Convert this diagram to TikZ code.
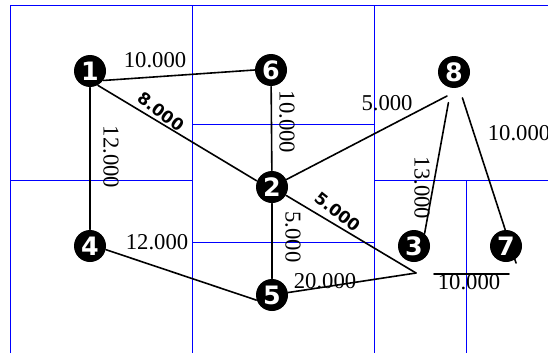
\documentclass[tikz,border=0pt]{standalone}
\usepackage{fontspec}
\setmainfont{Liberation Serif}
\newfontfamily\stationfont{DejaVu Sans}
\newfontfamily\boldlabelfont{DejaVu Sans}
\usetikzlibrary{backgrounds}

\tikzset{every picture/.style={line width=0.75pt}}
\tikzset{
	station/.style={circle, fill=black, inner sep=0pt, minimum size=24pt, text=white,
		font=\stationfont\bfseries\fontsize{19}{19}\selectfont},
	weight/.style={inner sep=0pt, font=\fontsize{17}{17}\selectfont},
	boldweight/.style={inner sep=0pt, font=\boldlabelfont\bfseries\fontsize{12.5}{12.5}\selectfont},
	gridline/.style={color={rgb, 255:red, 0; green, 0; blue, 255}, line width=0.75pt},
	link/.style={line width=1.2pt, line cap=round}}

\begin{document}
\begin{tikzpicture}[x=0.75pt,y=0.75pt,yscale=-1,xscale=1]
	\useasboundingbox (0,0) rectangle (548,353);

	% Stations
	\node [station] (n1) at (90,71) {1};
	\node [station] (n6) at (271,70) {6};
	\node [station] (n8) at (454,72) {8};
	\node [station] (n2) at (272,187) {2};
	\node [station] (n4) at (90,246) {4};
	\node [station] (n5) at (272,295) {5};
	\node [station] (n3) at (414,246) {3};
	\node [station] (n7) at (506,246) {7};

	% free ends
	\coordinate (e8) at (447,96);
	\coordinate (e7) at (516,263);
	\coordinate (c) at (416,273);
	\coordinate (u1) at (434,274);
	\coordinate (u2) at (509,274);

	\begin{scope}[on background layer]
		% Grid
		\draw [gridline] (10,353) -- (10,6) -- (548,6);
		\draw [gridline] (192,6) -- (192,353);
		\draw [gridline] (374,6) -- (374,353);
		\draw [gridline] (10,180) -- (192,180);
		\draw [gridline] (192,124) -- (374,124);
		\draw [gridline] (192,242) -- (374,242);
		\draw [gridline] (374,180) -- (548,180);
		\draw [gridline] (466,180) -- (466,353);

		% Links
		\draw [link] (n1.-35) -- (n6.west);
		\draw [link] (n1) -- (n4);
		\draw [link] (n1.-61) -- (n2.158);
		\draw [link] (n6) -- (n2);
		\draw [link] (n2) -- (n5);
		\draw [link] (n4.-13) -- (n5.198);
		\draw [link] (n2) -- (e8);
		\draw [link, shorten <=11pt] (n8) -- (n3.50);
		\draw [link, shorten <=8pt] (n8) -- (e7);
		\draw [link] (n2) -- (c);
		\draw [link] (n5) -- (c);
		\draw [link] (u1) -- (u2);
	\end{scope}

	% Text Node
	\node [weight] (w16) at (155,60) {10.000};
	% Text Node
	\node [boldweight, rotate=-37] (w12) at (161,112) {8.000};
	% Text Node
	\node [weight, rotate=-90] (w14) at (111,157) {12.000};
	% Text Node
	\node [weight, rotate=-90] (w62) at (287,122) {10.000};
	% Text Node
	\node [weight] (w28) at (387,103) {5.000};
	% Text Node
	\node [weight] (w87) at (519,133) {10.000};
	% Text Node
	\node [weight, rotate=-90] (w83) at (422,188) {13.000};
	% Text Node
	\node [boldweight, rotate=-38] (w2c) at (338,212) {5.000};
	% Text Node
	\node [weight, rotate=-90] (w25) at (293,237) {5.000};
	% Text Node
	\node [weight] (w45) at (157,242) {12.000};
	% Text Node
	\node [weight] (w5c) at (325,281) {20.000};
	% Text Node
	\node [weight] (w37) at (469,282) {10.000};

\end{tikzpicture}
\end{document}
